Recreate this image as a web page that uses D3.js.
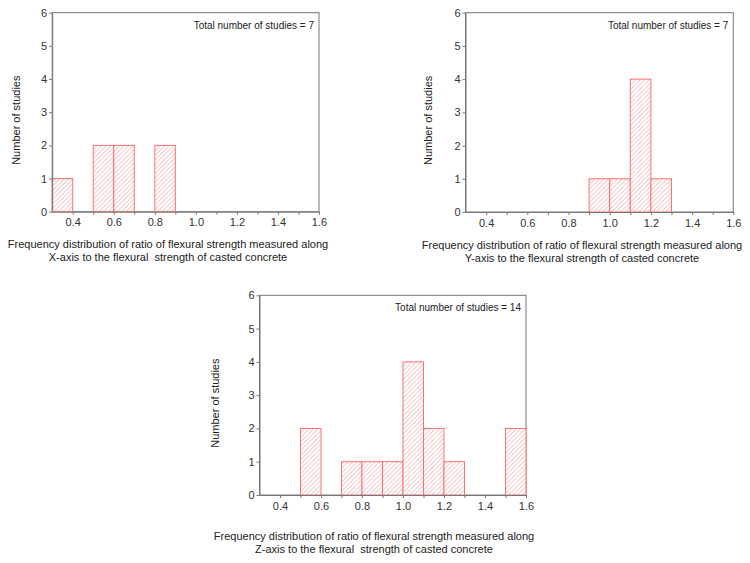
<!DOCTYPE html>
<html>
<head>
<meta charset="utf-8">
<script src="https://cdn.jsdelivr.net/npm/d3@7"></script>
<style>
  body { margin: 0; background: #fff; }
  svg { display: block; font-family: "Liberation Sans", Arial, sans-serif; }
  .axis path, .axis line { stroke: #777; }
  .axis text { fill: #333; font-size: 11px; }
  .frame { fill: none; stroke: #777; stroke-width: 1; }
  .bar { fill: url(#hatch); stroke: #ff7070; stroke-width: 1; }
  .lbl { fill: #222; font-size: 11px; }
  .total { fill: #222; font-size: 10px; }
</style>
</head>
<body>
<svg id="chart" width="750" height="563"></svg>
<script>
// bin starts (width 0.1) and counts
const binWidth = 0.1;
const xAxisBins = [0.3, 0.5, 0.6, 0.8];
const xAxisCounts = [1, 2, 2, 2];
const yAxisBins = [0.9, 1.0, 1.1, 1.2];
const yAxisCounts = [1, 1, 4, 1];
const zAxisBins = [0.5, 0.7, 0.8, 0.9, 1.0, 1.1, 1.2, 1.5];
const zAxisCounts = [2, 1, 1, 1, 4, 2, 1, 2];

const xDomain = [0.3, 1.6];
const yDomain = [0, 6];
const xTickLabels = [0.4, 0.6, 0.8, 1.0, 1.2, 1.4, 1.6];
const xMinorTicks = [0.5, 0.7, 0.9, 1.1, 1.3, 1.5];
const yTicks = [0, 1, 2, 3, 4, 5, 6];

const panels = [
  {bins: xAxisBins, counts: xAxisCounts, total: 'Total number of studies = 7',
   caption: ['Frequency distribution of ratio of flexural strength measured along', 'X-axis to the flexural\u00a0 strength of casted concrete'],
   left: 52.2, right: 319, top: 12.7, bottom: 211.7, capX: 168, capY: 248, titleX: 20},
  {bins: yAxisBins, counts: yAxisCounts, total: 'Total number of studies = 7',
   caption: ['Frequency distribution of ratio of flexural strength measured along', 'Y-axis to the flexural strength of casted concrete'],
   left: 465.5, right: 733.3, top: 12.7, bottom: 212, capX: 582, capY: 249, titleX: 432},
  {bins: zAxisBins, counts: zAxisCounts, total: 'Total number of studies = 14',
   caption: ['Frequency distribution of ratio of flexural strength measured along', 'Z-axis to the flexural\u00a0 strength of casted concrete'],
   left: 259.5, right: 526, top: 295.3, bottom: 495, capX: 374, capY: 540, titleX: 219}
];

const svg = d3.select('#chart');

const defs = svg.append('defs');
const pat = defs.append('pattern')
    .attr('id', 'hatch')
    .attr('patternUnits', 'userSpaceOnUse')
    .attr('width', 4.5).attr('height', 4.5);
pat.append('rect').attr('width', 4.5).attr('height', 4.5).attr('fill', '#fff');
pat.append('path')
    .attr('d', 'M-1,1 l2,-2 M0,4.5 l4.5,-4.5 M3.5,5.5 l2,-2')
    .attr('stroke', '#ffabab')
    .attr('stroke-width', 0.9)
    .attr('fill', 'none');

panels.forEach(p => {
  const x = d3.scaleLinear().domain(xDomain).range([p.left, p.right]);
  const y = d3.scaleLinear().domain(yDomain).range([p.bottom, p.top]);
  const g = svg.append('g');

  g.append('rect').attr('class', 'frame')
    .attr('x', p.left).attr('y', p.top)
    .attr('width', p.right - p.left).attr('height', p.bottom - p.top);

  g.selectAll('.bar')
    .data(p.bins.map((b, i) => ({x0: b, x1: b + binWidth, n: p.counts[i]})))
    .join('rect')
      .attr('class', 'bar')
      .attr('x', d => x(d.x0))
      .attr('width', d => x(d.x1) - x(d.x0))
      .attr('y', d => y(d.n))
      .attr('height', d => y(0) - y(d.n));

  g.append('g').attr('class', 'axis')
    .attr('transform', 'translate(0,' + p.bottom + ')')
    .call(d3.axisBottom(x).tickValues(xTickLabels).tickSize(3).tickSizeOuter(0).tickPadding(4).tickFormat(d3.format('.1f')));
  g.append('g').attr('class', 'axis')
    .attr('transform', 'translate(0,' + p.bottom + ')')
    .call(d3.axisBottom(x).tickValues(xMinorTicks).tickSize(3).tickSizeOuter(0).tickFormat(''))
    .select('.domain').remove();

  g.append('g').attr('class', 'axis')
    .attr('transform', 'translate(' + p.left + ',0)')
    .call(d3.axisLeft(y).tickValues(yTicks).tickSize(3).tickSizeOuter(0).tickPadding(2).tickFormat(d3.format('d')));

  g.append('text').attr('class', 'total')
    .attr('x', p.right - 5).attr('y', p.top + 16)
    .attr('text-anchor', 'end')
    .text(p.total);

  g.append('text').attr('class', 'lbl')
    .attr('transform', 'translate(' + p.titleX + ',' + ((p.top + p.bottom) / 2 + 8) + ') rotate(-90)')
    .attr('text-anchor', 'middle')
    .text('Number of studies');

  g.selectAll('.cap')
    .data(p.caption)
    .join('text')
      .attr('class', 'lbl cap')
      .attr('x', p.capX)
      .attr('y', (d, i) => p.capY + i * 13)
      .attr('text-anchor', 'middle')
      .text(d => d);
});
</script>
</body>
</html>
